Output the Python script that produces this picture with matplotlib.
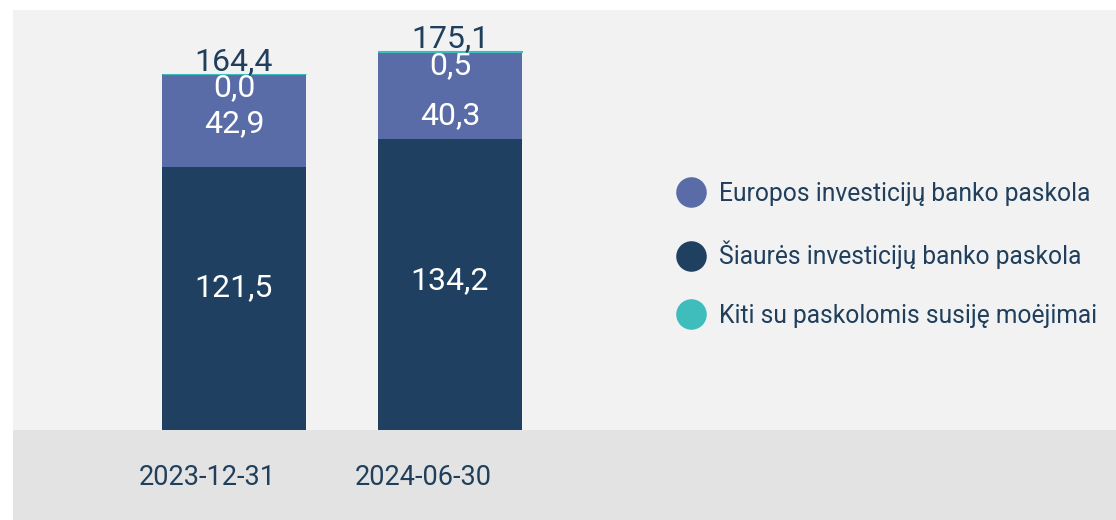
"""Stacked bars: loan balances by lender at two reporting dates."""

import matplotlib.pyplot as plt
from matplotlib.lines import Line2D
from matplotlib.patches import Rectangle
import numpy as np

plt.rcParams["font.family"] = ["Roboto", "DejaVu Sans"]

dates = ["2023-12-31", "2024-06-30"]
nib_loan = [121.5, 134.2]
eib_loan = [42.9, 40.3]
other_loan = [0.0, 0.5]
totals = [164.4, 175.1]
series_names = [
    "Europos investicijų banko paskola",
    "Šiaurės investicijų banko paskola",
    "Kiti su paskolomis susiję moėjimai",
]

NAVY = "#1f4060"
BLUE = "#5a6ca8"
TEAL = "#3fbcbc"
TEXT = "#1f3f5c"
BG = "#f2f2f2"
BAND = "#e3e3e3"


def main() -> None:
    fig = plt.figure(figsize=(11.16, 5.2), dpi=100)
    fig.patch.set_facecolor("white")
    # lower grey band under the plot area
    fig.patches.append(
        Rectangle((13 / 1116, 0), 1103 / 1116, 90 / 520, transform=fig.transFigure,
                  facecolor=BAND, edgecolor="none", zorder=-1)
    )
    ax = fig.add_axes([13 / 1116, 90 / 520, 1103 / 1116, 420 / 520])
    ax.set_facecolor(BG)
    for spine in ax.spines.values():
        spine.set_visible(False)
    ax.set_xticks([])
    ax.set_yticks([])
    ax.set_xlim(-1.023, 4.083)
    ax.set_ylim(0, 194)

    x = np.arange(len(dates))
    nib = np.array(nib_loan)
    eib = np.array(eib_loan)
    other = np.array(other_loan)
    width = 0.667
    ax.bar(x, nib, width, color=NAVY, edgecolor="none")
    ax.bar(x, eib, width, bottom=nib, color=BLUE, edgecolor="none")
    ax.bar(x, other, width, bottom=nib + eib, color=TEAL, edgecolor=TEAL, linewidth=0.8)

    fmt = lambda v: f"{v:.1f}".replace(".", ",")
    label_kw = dict(ha="center", va="center", fontsize=23, textcoords="offset points")
    nib_nudge = [8, 3]
    eib_nudge = [-2, -14]
    for i in range(len(dates)):
        ax.annotate(fmt(nib[i]), (x[i], nib[i] / 2), xytext=(0, nib_nudge[i]),
                    color="white", **label_kw)
        ax.annotate(fmt(eib[i]), (x[i], nib[i] + eib[i] / 2), xytext=(0, eib_nudge[i]),
                    color="white", **label_kw)
        ax.annotate(fmt(other[i]), (x[i], nib[i] + eib[i]), xytext=(0, -10),
                    color="white", **label_kw)
        ax.annotate(fmt(totals[i]), (x[i], totals[i]), xytext=(0, 9),
                    color=TEXT, **label_kw)
        ax.annotate(dates[i], (x[i], 0), xytext=(-19, -34), color=TEXT,
                    ha="center", va="center", fontsize=19.5, textcoords="offset points",
                    annotation_clip=False)

    handles = [
        Line2D([], [], marker="o", linestyle="none", markersize=22,
               markerfacecolor=c, markeredgecolor="none")
        for c in (BLUE, NAVY, TEAL)
    ]
    ax.legend(handles, series_names, loc="center left",
              bbox_to_anchor=(0.592, 0.417), frameon=False, fontsize=17.7,
              labelcolor=TEXT, handletextpad=0.55, labelspacing=1.42,
              handlelength=1.2, borderaxespad=0)

    fig.savefig("out.png", dpi=100, facecolor=fig.get_facecolor())


if __name__ == "__main__":
    main()
